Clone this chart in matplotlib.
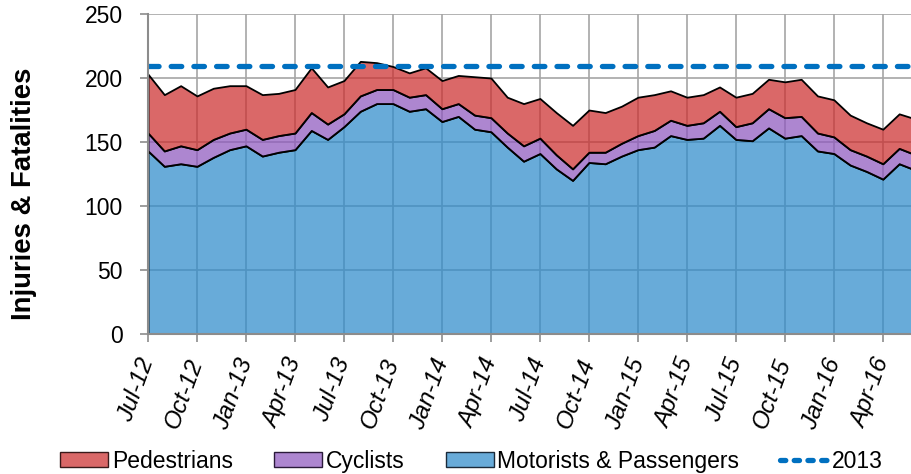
import matplotlib
matplotlib.use("Agg")
import matplotlib.pyplot as plt
from matplotlib.patches import Patch
from matplotlib.lines import Line2D
from matplotlib.colors import to_rgba

plt.rcParams['font.family'] = ['Liberation Sans', 'DejaVu Sans']

months = ["Jul-12", "Aug-12", "Sep-12", "Oct-12", "Nov-12", "Dec-12",
          "Jan-13", "Feb-13", "Mar-13", "Apr-13", "May-13", "Jun-13",
          "Jul-13", "Aug-13", "Sep-13", "Oct-13", "Nov-13", "Dec-13",
          "Jan-14", "Feb-14", "Mar-14", "Apr-14", "May-14", "Jun-14",
          "Jul-14", "Aug-14", "Sep-14", "Oct-14", "Nov-14", "Dec-14",
          "Jan-15", "Feb-15", "Mar-15", "Apr-15", "May-15", "Jun-15",
          "Jul-15", "Aug-15", "Sep-15", "Oct-15", "Nov-15", "Dec-15",
          "Jan-16", "Feb-16", "Mar-16", "Apr-16", "May-16", "Jun-16"]

motorists = [143, 131, 133, 131, 138, 144, 147, 139, 142, 144,
             159, 152, 162, 174, 180, 180, 174, 176, 166, 170,
             160, 158, 146, 135, 141, 129, 120, 134, 133, 139,
             144, 146, 155, 152, 153, 163, 152, 151, 161, 153,
             155, 143, 141, 132, 127, 121, 133, 128]
cyclists = [14, 12, 14, 13, 14, 13, 13, 13, 13, 13,
            14, 12, 10, 12, 11, 11, 11, 11, 10, 10,
            11, 11, 11, 12, 12, 11, 9, 8, 9, 10,
            11, 13, 12, 11, 12, 11, 10, 14, 15, 16,
            15, 14, 13, 12, 12, 12, 12, 12]
pedestrians = [46, 44, 47, 42, 40, 37, 34, 35, 33, 34,
               35, 29, 26, 27, 21, 18, 19, 21, 22, 22,
               30, 31, 28, 33, 31, 33, 34, 33, 31, 29,
               30, 28, 23, 22, 22, 19, 23, 23, 23, 28,
               29, 29, 29, 27, 26, 27, 27, 28]
level_2013 = 209

W, H = 912, 474
fig = plt.figure(figsize=(W / 100, H / 100), dpi=100)
ax = fig.add_axes([148 / W, 1 - 334 / H, 1 - 148 / W, 320 / H])

x = list(range(len(months)))
alpha = 0.72
col_mot = to_rgba('#2E8BCB', alpha)
col_cyc = to_rgba('#8E58BE', alpha)
col_ped = to_rgba('#CC2E2E', alpha)

ax.stackplot(x, motorists, cyclists, pedestrians,
             colors=[col_mot, col_cyc, col_ped],
             edgecolor='black', linewidth=1.3, zorder=2)
ax.plot([x[0], x[-1]], [level_2013, level_2013], color='#0070C0',
        lw=3.8, dashes=(2.0, 2.3), dash_capstyle='round', zorder=3)

ax.set_xlim(0, (W - 148) / 16.33)
ax.set_ylim(0, 250)
ax.set_yticks(range(0, 251, 50))
ax.set_xticks(x[::3])
ax.set_xticklabels(months[::3])

ax.set_axisbelow(True)
ax.grid(True, color='#A6A6A6', lw=1.2, zorder=0)

for s in ['top', 'right']:
    ax.spines[s].set_visible(False)
for s in ['left', 'bottom']:
    ax.spines[s].set_color('#8C8C8C')
    ax.spines[s].set_linewidth(1.5)
    ax.spines[s].set_zorder(4)

ax.tick_params(axis='both', colors='#8C8C8C', length=6, width=1.2,
               labelcolor='black', labelsize=16.5)
ax.tick_params(axis='y', pad=12)
ax.tick_params(axis='x', pad=12, labelsize=17.5)
for lab in ax.get_xticklabels():
    lab.set_rotation(70)
    lab.set_rotation_mode('anchor')
    lab.set_ha('right')
    lab.set_va('center')
    lab.set_style('italic')

fig.text(24 / W, 1 - 194 / H, 'Injuries & Fatalities', rotation=90,
         fontweight='bold', fontsize=19.8, ha='center', va='center')

handles = [Patch(facecolor=col_ped, edgecolor='#3a1a1a', lw=1.0),
           Patch(facecolor=col_cyc, edgecolor='#2a1a3a', lw=1.0),
           Patch(facecolor=col_mot, edgecolor='#1a2a3a', lw=1.0),
           Line2D([0], [0], color='#0070C0', lw=3.8, dashes=(1.0, 1.6),
                  dash_capstyle='round')]
labels = ['Pedestrians', 'Cyclists', 'Motorists & Passengers', '2013']
fig.legend(handles, labels, loc='center', bbox_to_anchor=(0.517, 0.027),
           ncol=4, frameon=False, fontsize=16.5, handlelength=2.1,
           handleheight=0.6, handletextpad=0.15, columnspacing=1.8,
           borderpad=0, borderaxespad=0)

fig.savefig('out.png', dpi=100)
